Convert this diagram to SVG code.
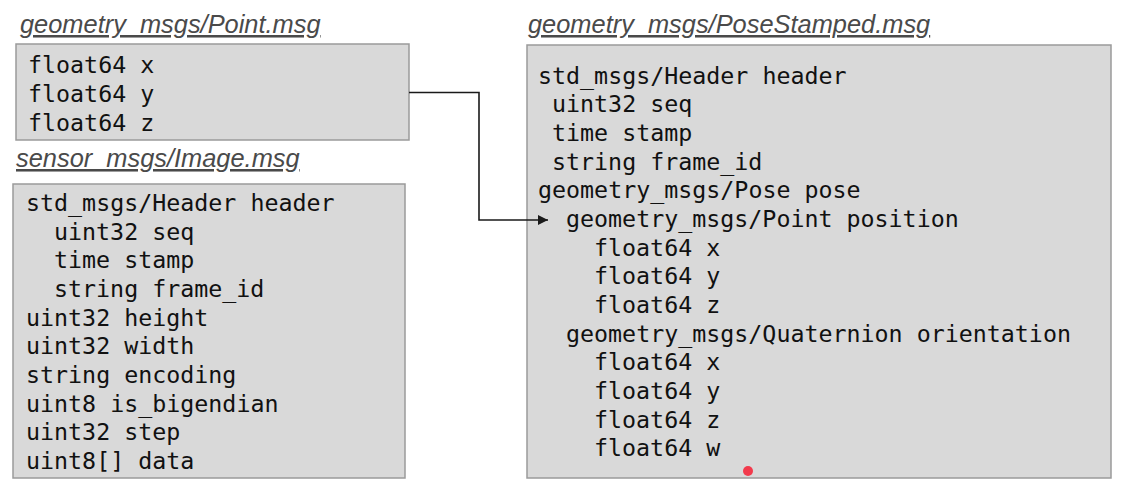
<svg xmlns="http://www.w3.org/2000/svg" width="1127" height="486" viewBox="0 0 1127 486">
<style>
.box{fill:#d9d9d9;stroke:#9a9a9a;stroke-width:1.5}
.title{font-family:"Liberation Sans",Arial,sans-serif;font-style:italic;font-size:25.4px;fill:#4a4a4a;text-decoration:underline}
.code{font-family:"DejaVu Sans Mono",monospace;font-size:23.3px;fill:#111}
.conn{fill:none;stroke:#1a1a1a;stroke-width:1.6}
</style>
<defs>
<marker id="arr" viewBox="0 0 10 10" refX="10" refY="5" markerWidth="10" markerHeight="10" markerUnits="userSpaceOnUse" orient="auto">
<path d="M0,0 L10,5 L0,10 z" fill="#1a1a1a"/>
</marker>
</defs>
<rect width="1127" height="486" fill="#ffffff"/>
<g id="point">
<text class="title" x="20" y="33">geometry_msgs/Point.msg</text>
<rect class="box" x="16" y="44" width="393" height="96"/>
<text class="code" x="28" y="73">float64 x</text>
<text class="code" x="28" y="102">float64 y</text>
<text class="code" x="28" y="131">float64 z</text>
</g>
<g id="image">
<text class="title" x="16" y="167">sensor_msgs/Image.msg</text>
<rect class="box" x="13" y="184" width="392" height="294"/>
<text class="code" x="26" y="211">std_msgs/Header header</text>
<text class="code" x="54" y="240">uint32 seq</text>
<text class="code" x="54" y="268">time stamp</text>
<text class="code" x="54" y="297">string frame_id</text>
<text class="code" x="26" y="326">uint32 height</text>
<text class="code" x="26" y="354">uint32 width</text>
<text class="code" x="26" y="383">string encoding</text>
<text class="code" x="26" y="412">uint8 is_bigendian</text>
<text class="code" x="26" y="440">uint32 step</text>
<text class="code" x="26" y="469">uint8[] data</text>
</g>
<g id="posestamped">
<text class="title" x="528" y="33">geometry_msgs/PoseStamped.msg</text>
<rect class="box" x="527" y="45" width="584" height="433"/>
<text class="code" x="538" y="84">std_msgs/Header header</text>
<text class="code" x="552" y="112">uint32 seq</text>
<text class="code" x="552" y="141">time stamp</text>
<text class="code" x="552" y="170">string frame_id</text>
<text class="code" x="538" y="198">geometry_msgs/Pose pose</text>
<text class="code" x="566" y="227">geometry_msgs/Point position</text>
<text class="code" x="594" y="256">float64 x</text>
<text class="code" x="594" y="284">float64 y</text>
<text class="code" x="594" y="313">float64 z</text>
<text class="code" x="566" y="342">geometry_msgs/Quaternion orientation</text>
<text class="code" x="594" y="370">float64 x</text>
<text class="code" x="594" y="399">float64 y</text>
<text class="code" x="594" y="428">float64 z</text>
<text class="code" x="594" y="456">float64 w</text>
<circle cx="748" cy="471" r="5" fill="#f23a4c"/>
</g>
<g id="connectors">
<path class="conn" d="M409,92.5 H479 V220 H548" marker-end="url(#arr)"/>
</g>
</svg>
